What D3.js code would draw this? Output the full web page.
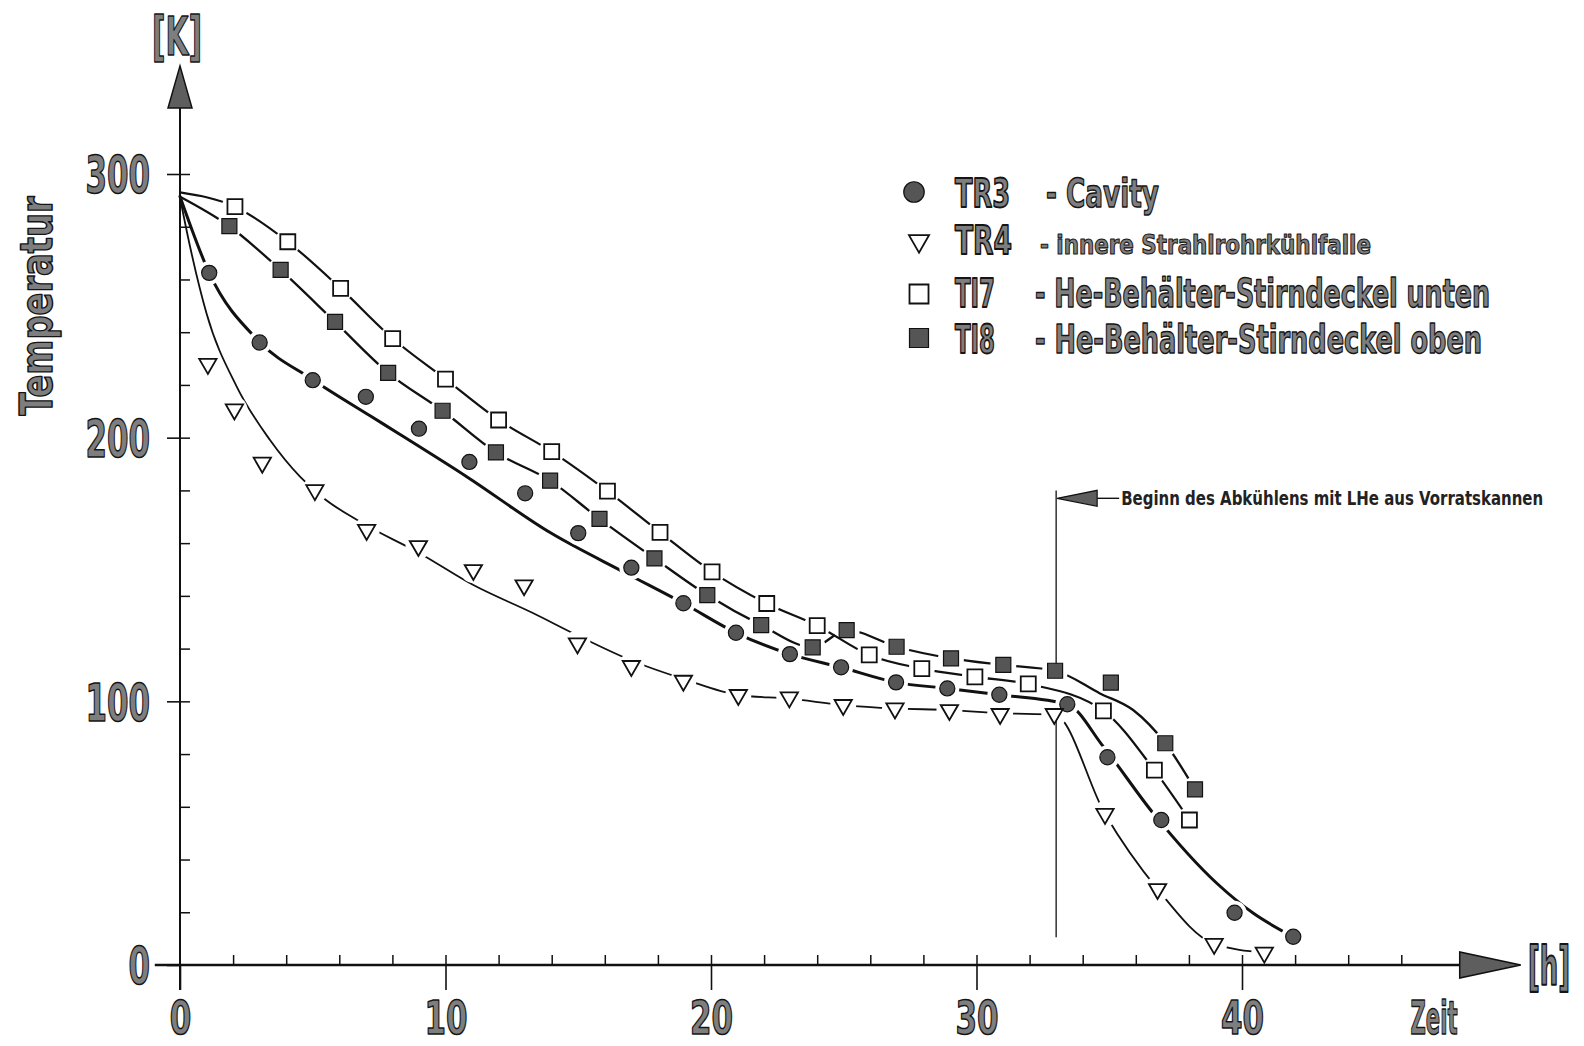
<!DOCTYPE html>
<html><head><meta charset="utf-8">
<script src="https://cdn.jsdelivr.net/npm/d3@7"></script>
<style>
html,body{margin:0;padding:0;background:#fff;}
svg{display:block;}
.lab{font-family:"Liberation Sans Narrow","DejaVu Sans Condensed","Roboto Condensed","Liberation Sans",sans-serif;font-weight:bold;fill:#7e7e7e;stroke:#151515;stroke-width:1.5px;stroke-linejoin:round;}
.small{font-family:"Liberation Sans Narrow","DejaVu Sans Condensed","Liberation Sans",sans-serif;font-weight:bold;fill:#222;}
</style></head><body>
<svg id="c" width="1584" height="1046"></svg>
<script>
// ---------- data ----------
const xTicksMajor = [0, 10, 20, 30, 40];
const xTicksMinor = [2,4,6,8,10,12,14,16,18,20,22,24,26,28,30,32,34,36,38,40,42,44,46];
const yTicksMajor = [0, 100, 200, 300];
const yTicksMinor = [20,40,60,80,100,120,140,160,180,200,220,240,260,280,300];

// TR3 - Cavity (filled circles)
const tr3X = [1.1,3.0,5.0,7.0,9.0,10.9,13.0,15.0,17.0,18.96,20.94,22.97,24.9,26.97,28.9,30.86,33.42,34.93,36.96,39.72,41.93];
const tr3Y = [262.5,236.1,221.8,215.5,203.4,190.8,178.9,163.8,150.7,137.2,126.0,117.9,112.9,107.2,104.9,102.5,98.9,78.8,55.0,19.8,10.7];
const tr3FitX = [0,1.1,3.0,5.0,7.16,8.29,10.8,13.94,16.82,18.96,20.94,22.97,24.9,26.97,28.9,30.86,33.42,34.78,36.66,39.05,40.43,41.93];
const tr3FitY = [291.5,262.5,236.3,222.0,208.3,201.2,185.2,164.0,148.5,137.2,126.0,117.9,112.9,107.2,104.9,102.5,98.9,82.8,57.5,31.0,19.6,10.7];

// TR4 - innere Strahlrohrkühlfalle (open triangles)
const tr4X = [1.05,2.05,3.1,5.08,7.03,8.98,11.05,12.96,14.97,17.0,18.96,21.03,22.95,24.98,26.93,28.98,30.89,32.93,34.84,36.82,38.95,40.84];
const tr4Y = [228,210.7,190.5,180.1,165,158.9,149.8,144,122,113.4,107.8,102.4,101.5,98.6,97.3,96.7,95.2,95.2,57.3,28.8,8.0,4.7];
const tr4FitX = [0,0.38,1.0,2.14,3.39,4.52,5.34,6.78,9.04,11.05,13.31,14.97,17.0,18.96,21.03,22.95,24.98,26.93,28.98,30.89,32.93,34.84,36.82,38.95,40.84];
const tr4FitY = [291,272.4,247.1,219.3,199.1,185.2,177.6,168.1,156.1,144.1,133.4,125.0,115.5,108.5,102.4,101.0,98.6,97.3,96.7,95.5,95.0,57.3,28.8,8.0,4.7];

// TI7 - He-Behälter-Stirndeckel unten (open squares)
const ti7X = [2.07,4.06,6.05,8.01,10.0,12.0,14.0,16.1,18.08,20.04,22.1,24.0,25.96,27.94,29.94,31.95,34.78,36.7,38.02];
const ti7Y = [287.6,274.3,256.6,237.6,222.2,206.7,194.7,179.7,164.1,149.1,137.1,128.7,117.6,112.4,109.3,106.6,96.4,73.9,55.0];
const ti7FitX = [0,2.07,4.06,6.05,8.01,10.0,12.0,14.0,16.1,18.08,20.04,22.1,24.0,25.96,27.94,29.94,31.95,34.78,36.7,38.02];
const ti7FitY = [293,287.6,274.3,256.6,237.6,222.2,206.7,194.7,179.7,164.1,149.1,137.1,128.7,117.6,112.4,109.3,106.6,96.4,73.9,55.0];

// TI8 - He-Behälter-Stirndeckel oben (filled squares)
const ti8X = [1.86,3.79,5.84,7.84,9.89,11.9,13.94,15.8,17.87,19.86,21.89,23.83,25.11,26.99,29.04,31.01,32.96,35.06,37.11,38.23];
const ti8Y = [280.2,263.6,243.9,224.6,210.2,194.4,183.7,169.2,154.2,140.3,128.9,120.5,127.0,120.7,116.3,113.8,111.6,107.1,84.1,66.6];
const ti8FitX = [0,1.86,3.79,5.84,7.84,9.89,11.9,13.94,15.8,17.87,19.86,21.89,23.83,25.11,26.99,29.04,31.01,32.96,34.65,35.9,37.11,38.23];
const ti8FitY = [291.4,280.2,263.6,243.9,224.6,210.2,194.4,183.7,169.2,154.2,140.3,128.9,120.5,127.0,120.7,116.3,113.8,111.6,103.0,96.7,84.1,66.6];

const legendCodes = ["TR3", "TR4", "TI7", "TI8"];
const legendTexts = ["- Cavity", "- innere Strahlrohrkühlfalle", "- He-Behälter-Stirndeckel unten", "- He-Behälter-Stirndeckel oben"];
const annotText = "Beginn des Abkühlens mit LHe aus Vorratskannen";
const annotX = 33, annotY = 177;
const annotSegs = [[180, 113.5], [93, 10.5]];

// ---------- drawing ----------
const W = 1584, H = 1046;
const svg = d3.select("#c");
const x = d3.scaleLinear().domain([0, 40]).range([180, 1242]);
const y = d3.scaleLinear().domain([0, 300]).range([965, 174]);

const defs = svg.append("defs");

// axis lines
const axisG = svg.append("g").attr("stroke", "#111").attr("fill", "none");
axisG.append("line").attr("x1", x(0)).attr("x2", x(0)).attr("y1", y(-9.5)).attr("y2", y(325)).attr("stroke-width", 2);
axisG.append("line").attr("x1", x(-0.95)).attr("x2", x(48.3)).attr("y1", y(0)).attr("y2", y(0)).attr("stroke-width", 2.4);
// arrow heads
svg.append("path")
  .attr("d", `M${x(0)},${y(341)} L${x(0)-12},${y(325)} L${x(0)+12},${y(325)} Z`)
  .attr("fill", "#5e5e5e").attr("stroke", "#111").attr("stroke-width", 1.5);
svg.append("path")
  .attr("d", `M${x(50.5)},${y(0)} L${x(48.2)},${y(0)-13} L${x(48.2)},${y(0)+13} Z`)
  .attr("fill", "#5e5e5e").attr("stroke", "#111").attr("stroke-width", 1.5);

// y minor ticks (right side)
svg.append("g").attr("transform", `translate(${x(0)},0)`)
  .call(d3.axisRight(y).tickValues(yTicksMinor).tickSize(10).tickFormat(""))
  .call(g => g.select(".domain").remove())
  .selectAll("line").attr("stroke", "#111").attr("stroke-width", 1.5);
// y major ticks + labels
const yAx = svg.append("g").attr("transform", `translate(${x(0)},0)`)
  .call(d3.axisLeft(y).tickValues(yTicksMajor).tickSize(13).tickPadding(17))
  .call(g => g.select(".domain").remove());
yAx.selectAll("line").attr("stroke", "#111").attr("stroke-width", 1.6);
yAx.selectAll("text").attr("class", "lab").attr("font-size", 52).attr("dy", "0.36em")
  .attr("textLength", d => String(d).length * 21.5).attr("lengthAdjust", "spacingAndGlyphs")
  .attr("fill", null);

// x minor ticks (upward)
svg.append("g").attr("transform", `translate(0,${y(0)})`)
  .call(d3.axisTop(x).tickValues(xTicksMinor).tickSize(10).tickFormat(""))
  .call(g => g.select(".domain").remove())
  .selectAll("line").attr("stroke", "#111").attr("stroke-width", 1.5);
// x major ticks + labels
const xAx = svg.append("g").attr("transform", `translate(0,${y(0)})`)
  .call(d3.axisBottom(x).tickValues(xTicksMajor).tickSize(25).tickPadding(11))
  .call(g => g.select(".domain").remove());
xAx.selectAll("line").attr("stroke", "#111").attr("stroke-width", 1.6);
xAx.selectAll("text").attr("class", "lab").attr("font-size", 46).attr("dy", "0.71em")
  .attr("textLength", d => String(d).length * 21.5).attr("lengthAdjust", "spacingAndGlyphs")
  .attr("fill", null);

// axis titles
svg.append("text").attr("class", "lab").attr("x", 177).attr("y", 55).attr("text-anchor", "middle")
  .attr("font-size", 54).attr("textLength", 50).attr("lengthAdjust", "spacingAndGlyphs").text("[K]");
svg.append("text").attr("class", "lab").attr("transform", "translate(1549,985) scale(1,1.38)").attr("text-anchor", "middle")
  .attr("font-size", 38).attr("textLength", 42).attr("lengthAdjust", "spacingAndGlyphs").text("[h]");
svg.append("text").attr("class", "lab").attr("x", 1434).attr("y", 1034).attr("text-anchor", "middle")
  .attr("font-size", 46).attr("textLength", 47).attr("lengthAdjust", "spacingAndGlyphs").text("Zeit");
svg.append("text").attr("class", "lab").attr("transform", "translate(52,306) rotate(-90)")
  .attr("text-anchor", "middle").attr("font-size", 44).attr("textLength", 219).attr("lengthAdjust", "spacingAndGlyphs").text("Temperatur");

// series
const series = [
  {key: "ti7", xs: ti7X, ys: ti7Y, fx: ti7FitX, fy: ti7FitY, lw: 2.2, gap: 13, shape: "sq", fill: "#fff"},
  {key: "ti8", xs: ti8X, ys: ti8Y, fx: ti8FitX, fy: ti8FitY, lw: 2.3, gap: 13, shape: "sq", fill: "#555"},
  {key: "tr3", xs: tr3X, ys: tr3Y, fx: tr3FitX, fy: tr3FitY, lw: 3.0, gap: 12, shape: "ci", fill: "#555"},
  {key: "tr4", xs: tr4X, ys: tr4Y, fx: tr4FitX, fy: tr4FitY, lw: 1.8, gap: 13, shape: "tr", fill: "#fff"}
];

const symFor = (shape, big) => {
  if (shape === "sq") return d3.symbol().type(d3.symbolSquare).size(big ? 361 : 225)();
  if (shape === "ci") return d3.symbol().type(d3.symbolCircle).size(big ? 330 : 180)();
  return d3.symbol().type(d3.symbolTriangle).size(big ? 175 : 130)();
};

const lineGen = d3.line().x(d => x(d[0])).y(d => y(d[1])).curve(d3.curveMonotoneX);

series.forEach(s => {
  const pts = d3.zip(s.xs, s.ys);
  const m = defs.append("mask").attr("id", "m-" + s.key).attr("maskUnits", "userSpaceOnUse")
    .attr("x", 0).attr("y", 0).attr("width", W).attr("height", H);
  m.append("rect").attr("width", W).attr("height", H).attr("fill", "#fff");
  m.selectAll("circle").data(pts).join("circle")
    .attr("cx", d => x(d[0])).attr("cy", d => y(d[1])).attr("r", s.gap).attr("fill", "#000");
  svg.append("path").datum(d3.zip(s.fx, s.fy))
    .attr("d", lineGen).attr("fill", "none").attr("stroke", "#111")
    .attr("stroke-width", s.lw).attr("stroke-linecap", "round")
    .attr("mask", `url(#m-${s.key})`);
});

// annotation vertical line and arrow
annotSegs.forEach(sg => {
  svg.append("line").attr("x1", x(annotX)).attr("x2", x(annotX)).attr("y1", y(sg[0])).attr("y2", y(sg[1]))
    .attr("stroke", "#222").attr("stroke-width", 1.4);
});
svg.append("path")
  .attr("d", `M${x(annotX)+1},${y(annotY)} L${x(annotX)+41},${y(annotY)-8} L${x(annotX)+41},${y(annotY)+8} Z`)
  .attr("fill", "#5e5e5e").attr("stroke", "#111").attr("stroke-width", 1.2);
svg.append("line").attr("x1", x(annotX)+41).attr("x2", x(annotX)+63).attr("y1", y(annotY)).attr("y2", y(annotY))
  .attr("stroke", "#111").attr("stroke-width", 1.4);
svg.append("text").attr("class", "small")
  .attr("transform", `translate(${x(annotX)+65},${y(annotY)+7}) scale(1,1.18)`)
  .attr("font-size", 17).attr("textLength", 422).attr("lengthAdjust", "spacingAndGlyphs").text(annotText);

// markers
series.forEach(s => {
  const pts = d3.zip(s.xs, s.ys);
  svg.append("g").selectAll("path").data(pts).join("path")
    .attr("d", symFor(s.shape, false))
    .attr("transform", d => `translate(${x(d[0])},${y(d[1])})` + (s.shape === "tr" ? " rotate(180)" : ""))
    .attr("fill", s.fill)
    .attr("stroke", "#111")
    .attr("stroke-width", s.fill === "#fff" ? 1.8 : 1.2);
});

// legend
const legRows = [
  {code: legendCodes[0], text: legendTexts[0], shape: "ci", fill: "#555", my: 192, by: 207, tx: 1046, tfs: 33, tw: 113, cw: 55},
  {code: legendCodes[1], text: legendTexts[1], shape: "tr", fill: "#fff", my: 241, by: 254, tx: 1040, tfs: 23, tw: 331, cw: 57},
  {code: legendCodes[2], text: legendTexts[2], shape: "sq", fill: "#fff", my: 294, by: 307, tx: 1035, tfs: 33, tw: 455, cw: 40},
  {code: legendCodes[3], text: legendTexts[3], shape: "sq", fill: "#555", my: 338, by: 353, tx: 1035, tfs: 33, tw: 447, cw: 40}
];
const lg = svg.append("g");
legRows.forEach(r => {
  lg.append("path").attr("d", symFor(r.shape, true))
    .attr("transform", `translate(${r.shape === "ci" ? 914 : 919},${r.my})` + (r.shape === "tr" ? " rotate(180)" : ""))
    .attr("fill", r.fill).attr("stroke", "#111").attr("stroke-width", r.fill === "#fff" ? 1.8 : 1.2);
  lg.append("text").attr("class", "lab").attr("transform", `translate(955,${r.by}) scale(1,1.18)`).attr("font-size", 33)
    .attr("textLength", r.cw).attr("lengthAdjust", "spacingAndGlyphs").text(r.code);
  lg.append("text").attr("class", "lab").attr("transform", `translate(${r.tx},${r.by}) scale(1,1.18)`).attr("font-size", r.tfs)
    .attr("textLength", r.tw).attr("lengthAdjust", "spacingAndGlyphs")
    .style("stroke-width", r.tfs < 30 ? "0.9px" : "1.2px").text(r.text);
});
</script>
</body></html>
